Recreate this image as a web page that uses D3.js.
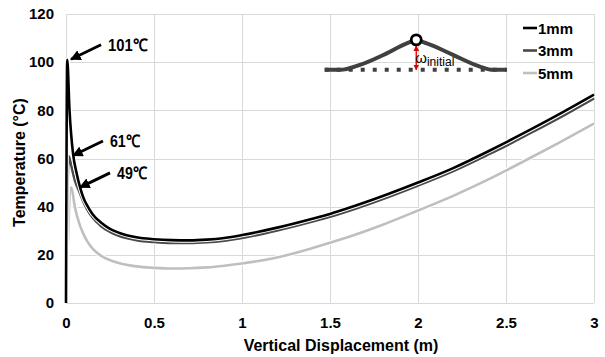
<!DOCTYPE html>
<html>
<head>
<meta charset="utf-8">
<script src="https://cdn.jsdelivr.net/npm/d3@7"></script>
<style>
  html, body { margin: 0; padding: 0; background: #fff; }
  svg { display: block; font-family: "Liberation Sans", Arial, sans-serif; }
  .tick-label { font-size: 15px; font-weight: bold; fill: #000; }
  .axis-title { font-size: 16px; font-weight: bold; fill: #000; }
  .note { font-size: 17px; font-weight: bold; fill: #000; }
</style>
</head>
<body>
<div id="chart"></div>
<script>
// ── data ─────────────────────────────────────────────
const xTicks = [0, 0.5, 1, 1.5, 2, 2.5, 3];
const yTicks = [0, 20, 40, 60, 80, 100, 120];

const disp1 = [0, 0.007, 0.02, 0.04, 0.06, 0.08, 0.1, 0.12, 0.15, 0.2, 0.25, 0.3, 0.4, 0.5, 0.6, 0.7, 0.8, 0.9, 1.0, 1.2, 1.4, 1.5, 1.6, 1.8, 2.0, 2.2, 2.4, 2.5, 2.6, 2.8, 3.0];
const temp1 = [0, 101, 80, 62, 54, 48, 43.5, 40.5, 37, 33.3, 30.8, 29.2, 27.3, 26.5, 26.1, 26, 26.3, 27, 28.2, 31.3, 35, 37, 39.3, 44.4, 50, 56, 63, 66.7, 70.5, 78.3, 86.5];

const disp3 = [0, 0.015, 0.03, 0.05, 0.08, 0.1, 0.12, 0.15, 0.2, 0.25, 0.3, 0.4, 0.5, 0.6, 0.7, 0.8, 0.9, 1.0, 1.2, 1.4, 1.5, 1.6, 1.8, 2.0, 2.2, 2.4, 2.5, 2.6, 2.8, 3.0];
const temp3 = [0, 61, 57, 51, 45.5, 41.8, 38.9, 35.6, 31.9, 29.5, 27.9, 26.1, 25.3, 24.9, 24.9, 25.2, 25.9, 27, 30.1, 33.8, 35.8, 38.1, 43.2, 48.8, 54.8, 61.7, 65.3, 69.1, 76.8, 85];

const disp5 = [0, 0.03, 0.05, 0.08, 0.1, 0.12, 0.15, 0.2, 0.25, 0.3, 0.4, 0.5, 0.6, 0.7, 0.8, 0.9, 1.0, 1.2, 1.4, 1.5, 1.6, 1.8, 2.0, 2.2, 2.4, 2.5, 2.6, 2.8, 3.0];
const temp5 = [0, 48, 40, 32, 28.5, 25.7, 22.7, 19.6, 17.8, 16.6, 15.2, 14.6, 14.3, 14.4, 14.8, 15.5, 16.4, 18.9, 22.8, 25, 27.3, 32.5, 38.4, 44.5, 51.3, 55, 58.8, 66.5, 74.5];

const seriesNames  = ["1mm", "3mm", "5mm"];
const seriesColors = ["#000000", "#4a4a4a", "#bfbfbf"];

// peak call-outs: label, tip (x, T)
const noteLabels = ["101℃", "61℃", "49℃"];
const noteTipX   = [0.023, 0.034, 0.074];
const noteTipT   = [101, 61, 47.8];

// inset sketch profile (x in chart units, lift in px above the base line)
const insetX    = [1.47, 1.557, 1.67, 1.822, 1.936, 1.99, 2.05, 2.199, 2.352, 2.426, 2.506];
const insetLift = [0, 0, 5, 16.5, 26.5, 29.5, 26.5, 15, 3.3, 0, 0];

// ── layout ───────────────────────────────────────────
const W = 605, H = 357;
const M = { left: 66, right: 11, top: 14, bottom: 54 };

const svg = d3.select("#chart").append("svg").attr("width", W).attr("height", H);

const x = d3.scaleLinear().domain([0, 3]).range([M.left, W - M.right]);
const y = d3.scaleLinear().domain([0, 120]).range([H - M.bottom, M.top]);

// ── grid ─────────────────────────────────────────────
const grid = svg.append("g").attr("stroke", "#d9d9d9").attr("stroke-width", 1);
grid.selectAll("line.h").data(yTicks).enter().append("line")
    .attr("x1", x(0)).attr("x2", x(3))
    .attr("y1", d => Math.round(y(d)) + 0.5).attr("y2", d => Math.round(y(d)) + 0.5);
grid.selectAll("line.v").data(xTicks).enter().append("line")
    .attr("y1", y(0)).attr("y2", y(120))
    .attr("x1", d => Math.round(x(d)) + 0.5).attr("x2", d => Math.round(x(d)) + 0.5);

// ── axis labels ──────────────────────────────────────
const xAxis = svg.append("g").attr("transform", `translate(0,${y(0)})`)
    .call(d3.axisBottom(x).tickValues(xTicks).tickSize(0).tickPadding(14).tickFormat(d3.format("~g")));
const yAxis = svg.append("g").attr("transform", `translate(${x(0)},0)`)
    .call(d3.axisLeft(y).tickValues(yTicks).tickSize(0).tickPadding(12));
[xAxis, yAxis].forEach(a => {
    a.select(".domain").remove();
    a.selectAll("text").attr("class", "tick-label").attr("font-family", null).attr("font-size", null);
});

svg.append("text").attr("class", "axis-title")
    .attr("x", 341).attr("y", H - 6)
    .attr("text-anchor", "middle").text("Vertical Displacement (m)");
svg.append("text").attr("class", "axis-title")
    .attr("transform", `translate(25,${(y(0) + y(120)) / 2 + 4}) rotate(-90)`)
    .attr("text-anchor", "middle").text("Temperature (°C)");

// ── series ───────────────────────────────────────────
const seriesData = [
    d3.zip(disp1, temp1),
    d3.zip(disp3, temp3),
    d3.zip(disp5, temp5),
];
const line = d3.line().x(d => x(d[0])).y(d => y(d[1])).curve(d3.curveMonotoneX);

// light first so the darker curves sit on top, each with a white casing
[2, 1, 0].forEach(i => {
    svg.append("path").datum(seriesData[i]).attr("d", line)
        .attr("fill", "none").attr("stroke", "#fff").attr("stroke-width", 4.6);
    svg.append("path").datum(seriesData[i]).attr("d", line)
        .attr("fill", "none").attr("stroke", seriesColors[i]).attr("stroke-width", 2.6)
        .attr("stroke-linejoin", "round");
});

// ── legend ───────────────────────────────────────────
const legend = svg.append("g").attr("transform", `translate(523,28)`);
seriesNames.forEach((name, i) => {
    const row = legend.append("g").attr("transform", `translate(0,${i * 22.5})`);
    row.append("line").attr("x1", 0).attr("x2", 14).attr("y1", 0).attr("y2", 0)
        .attr("stroke", seriesColors[i]).attr("stroke-width", 2.6);
    row.append("text").attr("class", "tick-label").attr("x", 15).attr("y", 5.5).text(name);
});

// ── peak call-outs ───────────────────────────────────
const defs = svg.append("defs");
defs.append("marker")
    .attr("id", "ahead").attr("viewBox", "0 0 10 10").attr("refX", 9).attr("refY", 5)
    .attr("markerWidth", 3.8).attr("markerHeight", 3.8).attr("orient", "auto")
    .append("path").attr("d", "M0,0 L10,5 L0,10 z").attr("fill", "#000");

noteLabels.forEach((lab, i) => {
    const tx = x(noteTipX[i]), ty = y(noteTipT[i]);
    svg.append("line")
        .attr("x1", tx + 31).attr("y1", ty - 15)
        .attr("x2", tx + 1).attr("y2", ty - 0.5)
        .attr("stroke", "#000").attr("stroke-width", 2.8)
        .attr("marker-end", "url(#ahead)");
    // Calibri-like narrow setting: squeeze to the width seen in the figure
    svg.append("text").attr("class", "note")
        .attr("x", tx + 38).attr("y", ty - 9)
        .attr("textLength", (lab.length - 1) * 9.5 + 11)
        .attr("lengthAdjust", "spacingAndGlyphs")
        .text(lab);
});

// ── inset sketch (ω initial) ─────────────────────────
const baseT = 96.8;
const by0 = y(baseT), cx = x(1.99);
const inset = svg.append("g");
inset.append("line")
    .attr("x1", x(1.47)).attr("x2", x(2.5)).attr("y1", by0).attr("y2", by0)
    .attr("stroke", "#404040").attr("stroke-width", 4).attr("stroke-dasharray", "4,8");
const bump = d3.line().x(d => x(d[0])).y(d => by0 - d[1]).curve(d3.curveMonotoneX);
inset.append("path").datum(d3.zip(insetX, insetLift)).attr("d", bump)
    .attr("fill", "none").attr("stroke", "#404040").attr("stroke-width", 4);

defs.append("marker")
    .attr("id", "rhead").attr("viewBox", "0 0 10 10").attr("refX", 9).attr("refY", 5)
    .attr("markerWidth", 4).attr("markerHeight", 4).attr("orient", "auto-start-reverse")
    .append("path").attr("d", "M0,0 L10,5 L0,10 z").attr("fill", "#e00000");
const by1 = by0 - 30;
inset.append("line")
    .attr("x1", cx).attr("x2", cx).attr("y1", by1 + 6).attr("y2", by0)
    .attr("stroke", "#e00000").attr("stroke-width", 1.4)
    .attr("marker-start", "url(#rhead)").attr("marker-end", "url(#rhead)");
inset.append("circle").attr("cx", cx).attr("cy", by1).attr("r", 5)
    .attr("fill", "#fff").attr("stroke", "#000").attr("stroke-width", 2.8);

const omega = inset.append("text").attr("x", cx - 1).attr("y", by1 + 23)
    .attr("font-size", 15).attr("fill", "#000");
omega.append("tspan").text("ω");
omega.append("tspan").attr("font-size", 12).attr("dy", 3).text("initial");
</script>
</body>
</html>
